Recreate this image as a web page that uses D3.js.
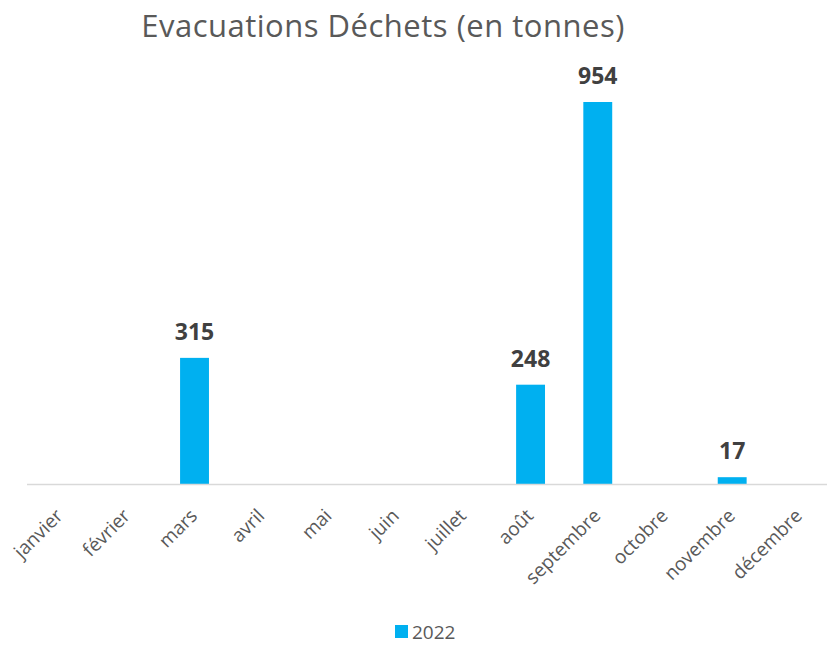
<!DOCTYPE html>
<html>
<head>
<meta charset="utf-8">
<script src="https://cdn.jsdelivr.net/npm/d3@7/dist/d3.min.js"></script>
<style>
  html, body { margin: 0; padding: 0; background: #fff; }
  svg { display: block; }
  text { font-family: "Open Sans", "Noto Sans", sans-serif; }
</style>
</head>
<body>
<svg id="chart" width="827" height="645"></svg>
<script>
// Monthly waste removals, 2022 (tonnes)
const months = ["janvier", "février", "mars", "avril", "mai", "juin", "juillet",
                "août", "septembre", "octobre", "novembre", "décembre"];
const values2022 = [null, null, 315, null, null, null, null, 248, 954, null, 17, null];
const seriesName = "2022";
const chartTitle = "Evacuations Déchets (en tonnes)";

const svg = d3.select("#chart");
const plot = { left: 26.5, right: 833, top: 102, bottom: 484 };
const barColor = "#00b0f0";

const x = d3.scaleBand()
  .domain(months)
  .range([plot.left, plot.right])
  .paddingInner(0.57)
  .paddingOuter(0.285);

const y = d3.scaleLinear()
  .domain([0, 954])
  .range([plot.bottom, plot.top]);

// Title
svg.append("text")
  .attr("x", 383)
  .attr("y", 37)
  .attr("text-anchor", "middle")
  .attr("fill", "#595959")
  .attr("font-size", 31)
  .attr("letter-spacing", 0.5)
  .text(chartTitle);

// Bars
const data = months.map((m, i) => ({ month: m, value: values2022[i] }))
  .filter(d => d.value != null);

svg.append("g")
  .selectAll("rect")
  .data(data)
  .join("rect")
  .attr("x", d => x(d.month))
  .attr("y", d => y(d.value))
  .attr("width", x.bandwidth())
  .attr("height", d => plot.bottom - y(d.value))
  .attr("fill", barColor);

// Value labels
svg.append("g")
  .selectAll("text")
  .data(data)
  .join("text")
  .attr("x", d => x(d.month) + x.bandwidth() / 2)
  .attr("y", d => y(d.value) - 18)
  .attr("text-anchor", "middle")
  .attr("fill", "#404040")
  .attr("font-size", 23)
  .attr("font-weight", "bold")
  .text(d => d.value);

// Category axis
const xAxis = d3.axisBottom(x).tickSize(0).tickPadding(0);
const gx = svg.append("g")
  .attr("transform", `translate(0,${plot.bottom})`)
  .call(xAxis);
gx.select(".domain")
  .attr("stroke", "#d9d9d9")
  .attr("stroke-width", 1.5);
gx.selectAll(".tick text")
  .attr("fill", "#595959")
  .attr("font-size", 19)
  .attr("font-family", "\"Open Sans\", sans-serif")
  .attr("text-anchor", "end")
  .attr("dy", 0)
  .attr("transform", "translate(4,33) rotate(-45)");

// Legend
const lg = svg.append("g").attr("transform", "translate(395,625)");
lg.append("rect").attr("width", 13).attr("height", 13).attr("fill", barColor);
lg.append("text")
  .attr("x", 17)
  .attr("y", 14)
  .attr("fill", "#595959")
  .attr("font-size", 19)
  .text(seriesName);
</script>
</body>
</html>
